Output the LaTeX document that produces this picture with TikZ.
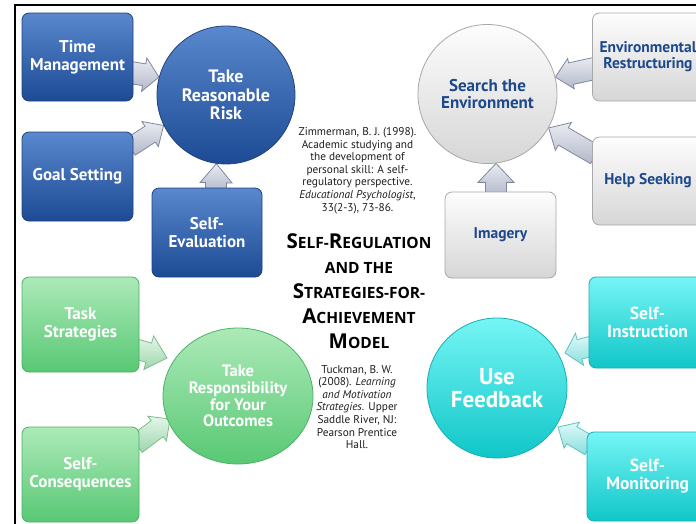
\documentclass[tikz,border=0pt]{standalone}
\usepackage{fontspec}
\setmainfont{PT Sans}
\newfontfamily\titlefont{Open Sans}
\usetikzlibrary{calc,shapes.geometric,backgrounds}
\definecolor{blueT}{RGB}{90,136,206}
\definecolor{blueB}{RGB}{28,74,148}
\definecolor{blueD}{RGB}{34,66,122}
\definecolor{grayT}{RGB}{253,253,253}
\definecolor{grayB}{RGB}{214,214,214}
\definecolor{grayD}{RGB}{168,168,168}
\definecolor{grayTxt}{RGB}{28,72,140}
\definecolor{greenT}{RGB}{172,234,184}
\definecolor{greenB}{RGB}{88,200,116}
\definecolor{greenD}{RGB}{78,176,102}
\definecolor{cyanT}{RGB}{118,245,245}
\definecolor{cyanB}{RGB}{16,198,200}
\definecolor{cyanD}{RGB}{22,174,178}
\definecolor{arT}{RGB}{234,236,242}
\definecolor{arB}{RGB}{178,184,202}
\definecolor{arD}{RGB}{128,136,156}
\definecolor{garT}{RGB}{228,246,232}
\definecolor{garB}{RGB}{158,214,172}
\definecolor{garD}{RGB}{126,188,142}
\definecolor{carT}{RGB}{224,249,249}
\definecolor{carB}{RGB}{138,222,222}
\definecolor{carD}{RGB}{96,194,194}
\definecolor{citeTxt}{RGB}{30,30,30}
\newcommand\blockarrow[6]{% style, tail, tip, head half width, shaft half width, head length
  \path #2 coordinate (batail) #3 coordinate (bahead);
  \pgfpointdiff{\pgfpointanchor{batail}{center}}{\pgfpointanchor{bahead}{center}}%
  \pgfgetlastxy{\bax}{\bay}%
  \pgfmathsetmacro\balen{veclen(\bax,\bay)}%
  \pgfmathsetmacro\baang{atan2(\bay,\bax)}%
  \begin{pgfonlayer}{background}
  \begin{scope}[shift={(batail)},rotate=\baang]
    \path[#1] (-4,-#5) -- ({\balen-#6},-#5) -- ({\balen-#6},-#4) -- (\balen,0)
      -- ({\balen-#6},#4) -- ({\balen-#6},#5) -- (-4,#5) -- cycle;
  \end{scope}
  \end{pgfonlayer}}
\newcommand\bigL[1]{{\fontsize{20.5}{25}\selectfont #1}}
\begin{document}
\begin{tikzpicture}[x=1pt,y=-1pt,
  box/.style={rectangle, rounded corners=7pt, line width=0.8pt, align=center, inner sep=1pt,
    font=\bfseries\fontsize{17}{18}\selectfont},
  bluebox/.style={box, draw=blueD, top color=blueT, bottom color=blueB, text=white},
  graybox/.style={box, draw=grayD, top color=grayT, bottom color=grayB, text=grayTxt,
    font=\bfseries\fontsize{15.5}{16}\selectfont},
  greenbox/.style={box, draw=greenD, top color=greenT, bottom color=greenB, text=white},
  cyanbox/.style={box, draw=cyanD, top color=cyanT, bottom color=cyanB, text=white,
    font=\bfseries\fontsize{17.5}{18}\selectfont},
  circ/.style={circle, inner sep=0pt, line width=0.8pt, align=center,
    font=\bfseries\fontsize{18}{18.5}\selectfont},
  bluearrow/.style={draw=arD, line width=0.8pt, top color=arT, bottom color=arB},
  grayarrow/.style={draw=arD, line width=0.8pt, top color=arT, bottom color=arB},
  greenarrow/.style={draw=garD, line width=0.8pt, top color=garT, bottom color=garB},
  cyanarrow/.style={draw=carD, line width=0.8pt, top color=carT, bottom color=carB},
  cite/.style={align=center, text=citeTxt, inner sep=0pt, font=\fontsize{11.3}{12.6}\selectfont}
]
\useasboundingbox (0,0) rectangle (696,523);
\begin{pgfonlayer}{background}
  \fill[white] (0,0) rectangle (696,523);
\end{pgfonlayer}
\draw[line width=2pt] (15,530) -- (15,5) -- (710,5);

% blue group
\node[bluebox, minimum width=111pt, minimum height=88pt] (tm) at (77.5,57) {Time\\Management};
\node[bluebox, minimum width=111pt, minimum height=89pt] (gs) at (77.5,176.5) {Goal Setting};
\node[bluebox, minimum width=110pt, minimum height=89pt] (se) at (207,232.5) {Self-\\Evaluation};
\node[circ, draw=blueD, top color=blueT, bottom color=blueB, text=white, minimum size=138pt]
  (trr) at (226,95) {Take\\Reasonable\\Risk};

% gray group
\node[graybox, minimum width=111pt, minimum height=88pt] (er) at (648,57) {Environmental\\Restructuring};
\node[graybox, minimum width=111pt, minimum height=88pt] (hs) at (648,181) {Help Seeking};
\node[graybox, minimum width=111pt, minimum height=86pt] (im) at (500.5,235) {Imagery};
\node[circ, draw=grayD, top color=grayT, bottom color=grayB, text=grayTxt, minimum size=139pt,
  font=\bfseries\fontsize{17}{17.5}\selectfont] (ste) at (487.5,94) {Search the\\Environment};

% green group
\node[greenbox, minimum width=117pt, minimum height=95pt] (ts) at (80.5,324.5) {Task\\Strategies};
\node[greenbox, minimum width=117pt, minimum height=95pt] (sc) at (80.5,474.5) {Self-\\Consequences};
\node[ellipse, inner sep=0pt, line width=0.8pt, align=center, draw=greenD, top color=greenT,
  bottom color=greenB, text=white, minimum width=150pt, minimum height=136pt,
  font=\bfseries\fontsize{16.5}{16.7}\selectfont] (try) at (238,396) {Take\\Responsibility\\for Your\\Outcomes};

% cyan group
\node[cyanbox, minimum width=117pt, minimum height=91pt] (si) at (647.5,322.5) {Self-\\Instruction};
\node[cyanbox, minimum width=121pt, minimum height=89pt] (sm) at (647.5,476.5) {Self-\\Monitoring};
\node[circ, draw=cyanD, top color=cyanT, bottom color=cyanB, text=white, minimum size=140pt,
  font=\bfseries\fontsize{23}{22.5}\selectfont] (uf) at (497,388) {Use\\Feedback};

% block arrows
\blockarrow{bluearrow}{($(tm.east)+(0,16)$)}{(trr.165)}{17}{11}{15}
\blockarrow{bluearrow}{($(gs.east)+(0,-31.5)$)}{(trr.206)}{15}{9.5}{16}
\blockarrow{bluearrow}{($(se.north)+(9,0)$)}{(trr.262)}{16}{10.5}{19}
\blockarrow{grayarrow}{($(er.west)+(0,12)$)}{(ste.14)}{15.5}{11}{16}
\blockarrow{grayarrow}{($(hs.west)+(0,-28)$)}{(ste.-29)}{16}{10}{17}
\blockarrow{grayarrow}{($(im.north)+(-4.5,0)$)}{(ste.-83)}{18}{10.5}{19}
\blockarrow{greenarrow}{($(ts.east)+(0,25.5)$)}{($(try.center)+(-71,-38)$)}{17.5}{10}{19}
\blockarrow{greenarrow}{($(sc.east)+(0,-32.5)$)}{($(try.center)+(-68,23)$)}{15.5}{10}{16}
\blockarrow{cyanarrow}{($(si.west)+(0,24.5)$)}{($(uf.center)+(68,-35)$)}{16.5}{10}{15}
\blockarrow{cyanarrow}{($(sm.west)+(0,-32.5)$)}{($(uf.center)+(61,39)$)}{15}{10}{16}

% center texts
\node[cite] (zim) at (357.5,170.5) {Zimmerman, B. J. (1998).\\Academic studying and\\the development of\\personal skill: A self-\\regulatory perspective.\\\textit{Educational Psychologist},\\33(2-3), 73-86.};
\node[align=center, text=black, inner sep=0pt, font=\titlefont\bfseries\fontsize{15.5}{25}\selectfont] (title) at (359,291)
  {\bigL{S}ELF-\bigL{R}EGULATION\\AND THE\\\bigL{S}TRATEGIES-FOR-\\\bigL{A}CHIEVEMENT\\\bigL{M}ODEL};
\node[cite] (tuck) at (357,407) {Tuckman, B. W.\\(2008). \textit{Learning}\\\textit{and Motivation}\\\textit{Strategies}. Upper\\Saddle River, NJ:\\Pearson Prentice\\Hall.};
\end{tikzpicture}
\end{document}
